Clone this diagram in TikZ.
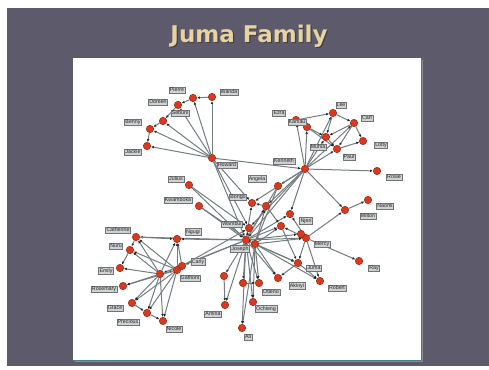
\documentclass[tikz,border=0pt]{standalone}
\usepackage{fontspec}
\setmainfont{Liberation Sans}
\newfontfamily\titlefont{DejaVu Sans}
\usetikzlibrary{arrows.meta}
\definecolor{slidegray}{HTML}{5D5B6B}
\definecolor{titletan}{HTML}{E8D2A4}
\definecolor{linkgray}{HTML}{727D80}
\definecolor{dotred}{HTML}{D8391F}
\definecolor{boxgray}{HTML}{CDD2D4}
\pgfdeclarelayer{background}
\pgfdeclarelayer{links}
\pgfsetlayers{background,links,main}
\tikzset{
  person/.style={circle, inner sep=0pt, minimum size=7.5pt, fill=dotred, draw=dotred!60!black, line width=0.4pt},
  namebox/.style={draw=black!55, fill=boxgray, line width=0.35pt, inner sep=0.9pt,
    font=\fontsize{5.3}{5.3}\selectfont, text=black!85},
  link/.style={draw=linkgray, line width=1pt, -{Latex[length=3pt,width=2.6pt,color=black!85]}},
  slidetitle/.style={font=\titlefont\bfseries\fontsize{23}{23}\selectfont}
}
\begin{document}
\begin{tikzpicture}[x=1pt,y=1pt,yscale=-1,xscale=1]
\useasboundingbox (0,0) rectangle (489,369);

% slide and panel
\begin{pgfonlayer}{background}
\fill[white] (0,0) rectangle (489,369);
\fill[slidegray] (7,8) rectangle (489,366);
\fill[black!45] (75,60) rectangle (423,362);
\fill[white] (73,58) rectangle (421,360);
\draw[teal!40!gray, line width=0.6pt] (421,58) -- (421,360) -- (73,360);
\end{pgfonlayer}

% title
\node[slidetitle, text=black!75] (ttl-s) at (250.2,37.2) {Juma Family};
\node[slidetitle, text=titletan] (ttl) at (249,36) {Juma Family};

% people with names
\foreach \id/\x/\y/\lx/\ly/\t in {
  wan/212/97/229/92/Wanda, pie/193/98/177/90/Pierre, dor/178/105/158/102/Doreen,
  seb/163/121/180/113/Sebuni, ben/150/129/133/122/Benny, jac/147/146/133/152/Jackie,
  how/212/158/227/165/Howard, lee/333/113/341/105/Lee, crl/354/123/367/118/Carl,
  ezr/296/120/279/113/Ezra, kam/307/127/297/122/Kamau, muh/326/137/318/147/Muhia,
  lot/363/141/381/145/Lotty, pau/337/149/349/157/Paul, ken/305/169/284/161/Kenneth,
  ros/377/171/394/177/Rosie, nao/368/200/385/206/Naomi, mil/345/210/368/216/Milton,
  ang/278/186/257/179/Angela, jul/189/185/176/179/Julius, kwa/199/206/178/200/Kwamboka,
  bon/252/203/238/197/Bongo, njr/290/214/306/221/Njeri, jos/246/240/240/249/Joseph,
  wam/249/228/232/224/Wambui, mer/306/238/322/244/Mercy, jum/298/263/314/268/Juma,
  ray/359/261/374/268/Ray, rob/320/281/337/288/Robert, aki/278/278/297/286/Akinyi,
  oti/259/283/271/292/Otieno, ami/225/305/213/314/Amina, och/253/302/266/309/Ochieng,
  ali/242/328/248/337/Ali, cat/136/237/118/230/Catherine, ngu/177/239/193/232/Ngugi,
  nur/130/250/116/246/Nuru, emi/120/268/106/271/Emily, gat/160/274/190/278/Gathoni,
  cly/182/266/198/262/Carly, rsm/123/286/104/289/Rosemary, gra/132/303/115/308/Grace,
  pre/147/313/128/322/Precious, nic/163/321/174/329/Nicole}
{
  \node[person] (\id) at (\x,\y) {};
  \node[namebox] (\id-n) at (\lx,\ly) {\t};
}
% people whose names are hidden
\foreach \id/\x/\y in {rib/266/206, tab/281/226, cen/255/244, mik/301/234,
  low/243/283, lft/224/276, gat2/177/270}
  \node[person] (\id) at (\x,\y) {};

% links
\begin{pgfonlayer}{links}
\foreach \a/\b in {
  how/wan, how/pie, how/dor, how/seb, how/ben, how/jac, how/ken, how/jos, how/wam, how/bon,
  wan/pie, pie/dor, dor/seb, seb/ben, ben/jac,
  ken/lee, ken/ezr, ken/kam, ken/muh, ken/pau, ken/crl, ken/ros, ken/ang, ken/jos,
  ken/wam, ken/bon, ken/rib, ken/njr, ken/mil,
  lee/crl, lee/muh, crl/lot, crl/muh, muh/pau, pau/lot, kam/muh, ezr/lee, kam/pau, crl/pau,
  ang/jos, ang/cen, jul/jos, kwa/jos, jul/wam, kwa/cen,
  jos/bon, jos/rib, jos/njr, jos/tab, jos/wam, jos/cen, jos/mik, jos/mer, jos/jum,
  jos/aki, jos/oti, jos/low, jos/lft, jos/ami, jos/och, jos/ali, jos/cat, jos/ngu,
  jos/cly, jos/gat,
  cen/rib, cen/tab, cen/mer, cen/jum, cen/rob, cen/aki, cen/oti, cen/och, cen/ali,
  mer/mik, mer/njr, mer/tab, mer/ray, mer/rob, mer/jum, mer/mil, mil/nao,
  jum/rob, jum/aki, tab/jum, rib/bon, rib/tab,
  gat/cat, gat/nur, gat/emi, gat/rsm, gat/gra, gat/pre, gat/nic, gat/ngu, gat/gat2,
  gat2/cat, gat2/nur, gat2/ngu, gat2/cly, gat2/rsm, gat2/gra, gat2/pre, gat2/nic,
  cly/ngu, cly/wam, cat/nur, nur/emi, cat/ngu, pre/nic, gra/pre,
  lft/ami, low/oti}
  \draw[link] (\a) -- (\b);
\end{pgfonlayer}
\end{tikzpicture}
\end{document}
